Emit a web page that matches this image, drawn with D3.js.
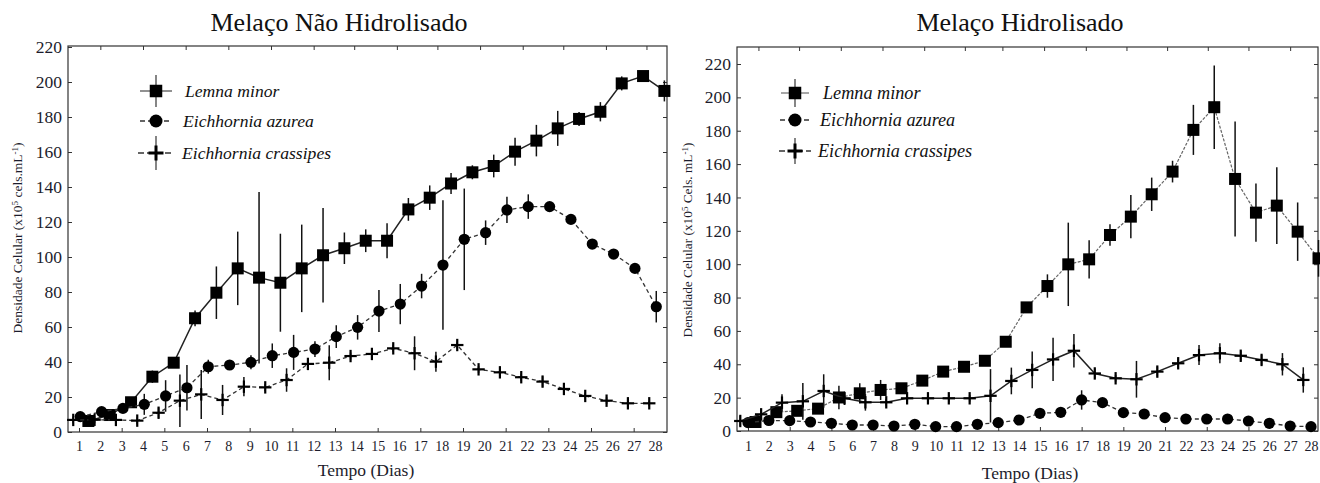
<!DOCTYPE html>
<html><head><meta charset="utf-8">
<script src="https://cdn.jsdelivr.net/npm/d3@7"></script>
<style>
body{margin:0;background:#fff}
svg{display:block}
svg text{font-family:"Liberation Serif","Times New Roman",Times,serif;}
</style>
</head><body>
<svg id="c" width="1320" height="483"></svg>
<script>
// ---------- data ----------
const days = [1,2,3,4,5,6,7,8,9,10,11,12,13,14,15,16,17,18,19,20,21,22,23,24,25,26,27,28];
const yTicks = [0,20,40,60,80,100,120,140,160,180,200,220];
const oddDays = [1,3,5,7,9,11,13,15,17,19,21,23,25,27];
const leftTopTicks = [2,4,6,8,10,12,13.9,15.9,17.8,19.8,21.8,23.7,25.7,27.6];
const rightTopTicks = [1.5,3.45,5.45,7.45,9.45,11.4,13.2,15.2,17.2,19.15,21.1,23.05,25,27];
const seriesNames = ["Lemna minor","Eichhornia azurea","Eichhornia crassipes"];

// Melaço Não Hidrolisado
const leftLemna = [6.3,9.7,17,31.6,39.6,65,79.6,93.5,88.2,85.3,93.5,101,105,109.3,109.3,127.2,133.9,142,148.4,152,160.2,166.5,173.5,178.9,183,199.2,203.4,194.9];
const leftLemnaErr = [1.5,2,2,3.5,2,4.5,15,21,49,28,25,27,9,6.5,10,6.5,7,6,4,6.5,8,9,10,4,5.5,4,2,6];
const leftAzurea = [8.8,11.6,13.5,15.8,20.6,25.3,37.3,38.3,39.8,43.6,45.5,47.4,54.5,59.8,69.1,73.1,83.4,95.4,110.1,113.9,126.9,128.8,128.8,121.5,107.4,101.7,93.5,71.6];
const leftAzureaErr = [1.5,1.5,2,6,9,13,4,2,4,7,10,4.5,6.5,7,12,11.5,7,37,29,7,7.5,7,1.5,2,1.5,2,2,9];
const leftCrassipes = [6.9,7,6.9,6.5,11,17.9,21.5,18.3,25.9,25.5,29.7,38.9,39.6,43.4,44.6,47.8,45,40.2,49.7,35.8,34.1,31.3,28.8,24.6,20.6,17.9,16.4,16.4];
const leftCrassipesErr = [2,2,2,2,3,15,14,8.6,5.5,2,6.7,2,10,2,2,2,9.7,5.7,2,2,2,2,3,2,2,2,1.5,1.5];

// Melaço Hidrolisado
const rightLemna = [5.4,11.3,12.1,13.4,20.1,22.6,24.6,25.6,30.2,35.6,38.5,42.1,53.5,74.1,86.9,99.9,102.9,117.5,128.5,141.9,155.5,180.5,194.1,151.1,130.9,135.1,119.5,103.5];
const rightLemnaErr = [1.5,2,2,3,7,6,6,2,2,2,2,2,2,2,7,25,11.5,6.5,13,10,6.5,15,25,34.5,17.5,23,17.5,11];
const rightAzurea = [5,6.3,6.2,5.4,4.6,3.6,3.6,3.0,4.0,2.6,2.6,4.0,5.0,6.6,10.6,11.2,18.6,17.0,11.0,10.2,8.0,7.2,7.2,7.2,6.0,4.6,3.0,2.6];
const rightAzureaErr = [1.5,1.5,1.5,1.5,1,1,1,1,1,1,1,1,1,1,1.5,1.5,5.8,2,1.5,1.5,1,1,1,3,1,1,1,1];
const rightCrassipes = [6,10,17,17.8,24,19.6,17.2,17.2,19.6,19.6,19.6,19.6,21.1,30,36.6,42.9,48.1,34.5,31.6,31.0,35.6,40.6,45.5,46.6,45.1,42.6,40,30.6];
const rightCrassipesErr = [3,3,5,11,10,4,5,2,2,2,2,2,16,8,11,13,10,3,2,11,3,3,6,6,3,3,6.7,7.6];

// ---------- drawing ----------
const svg = d3.select("#c");
const INK = "#1c1c2c";

function marker(g, shape, cx, cy, big) {
  if (shape === "square") {
    const s = big ? 12.5 : 12;
    g.append("rect").attr("x", cx - s/2).attr("y", cy - s/2).attr("width", s).attr("height", s).attr("fill", "#000");
  } else if (shape === "circle") {
    g.append("circle").attr("cx", cx).attr("cy", cy).attr("r", big ? 6.5 : 5.6).attr("fill", "#000");
  } else {
    const h = big ? 7.5 : 6.2;
    g.append("line").attr("x1", cx - h).attr("x2", cx + h).attr("y1", cy).attr("y2", cy).attr("stroke", "#000").attr("stroke-width", big ? 3 : 2.2);
    g.append("line").attr("x1", cx).attr("x2", cx).attr("y1", cy - h).attr("y2", cy + h).attr("stroke", "#000").attr("stroke-width", big ? 3 : 2.2);
  }
}

function drawPanel(cfg) {
  const g = svg.append("g");
  const x = d3.scaleLinear().domain([1, 28]).range(cfg.xRange);
  const y = d3.scaleLinear().domain([0, 220]).range(cfg.yRange);
  const fx0 = cfg.frame[0], fx1 = cfg.frame[1], fy0 = cfg.frame[2], fy1 = cfg.frame[3];

  g.append("rect").attr("x", fx0).attr("y", fy0).attr("width", fx1 - fx0).attr("height", fy1 - fy0)
    .attr("fill", "none").attr("stroke", "#333").attr("stroke-width", 1.2);

  const ax = g.append("g").attr("transform", `translate(${fx0},0)`)
    .call(d3.axisLeft(y).tickValues(yTicks).tickSizeInner(-4).tickSizeOuter(0).tickPadding(6));
  ax.attr("font-family", null);
  ax.select(".domain").remove();
  ax.selectAll("line").attr("stroke", "#333");
  ax.selectAll("text").attr("font-size", 17.5).attr("fill", INK);

  const ar = g.append("g").attr("transform", `translate(${fx1},0)`)
    .call(d3.axisRight(y).tickValues(yTicks.filter(v => y(v) > fy0 + 2)).tickSizeInner(-4).tickSizeOuter(0).tickFormat(""));
  ar.select(".domain").remove();
  ar.selectAll("line").attr("stroke", "#333");

  const ab = g.append("g").attr("transform", `translate(0,${fy1})`)
    .call(d3.axisBottom(x).tickValues(days).tickSize(0).tickPadding(cfg.xPad).tickFormat(d3.format("d")));
  ab.attr("font-family", null);
  ab.select(".domain").remove();
  ab.selectAll("text").attr("font-size", 14).attr("fill", INK);
  const abt = g.append("g").attr("transform", `translate(0,${fy1})`)
    .call(d3.axisBottom(x).tickValues(oddDays).tickSizeInner(-4).tickSizeOuter(0).tickFormat(""));
  abt.select(".domain").remove();
  abt.selectAll("line").attr("stroke", "#333");

  const at = g.append("g").attr("transform", `translate(0,${fy0})`)
    .call(d3.axisTop(x).tickValues(cfg.topTicks).tickSizeInner(-4).tickSizeOuter(0).tickFormat(""));
  at.select(".domain").remove();
  at.selectAll("line").attr("stroke", "#333");

  g.append("text").attr("x", cfg.titleX).attr("y", cfg.titleY).attr("text-anchor", "middle")
    .attr("font-size", 26).attr("fill", "#111").text(cfg.title);

  g.append("text").attr("x", cfg.xlabX).attr("y", cfg.xlabY).attr("text-anchor", "middle")
    .attr("font-size", 17.5).attr("fill", INK).text("Tempo (Dias)");
  const yl = g.append("text").attr("transform", `translate(${cfg.ylabX},${cfg.ylabY}) rotate(-90)`)
    .attr("text-anchor", "middle").attr("font-size", cfg.ylabSize).attr("fill", INK);
  yl.append("tspan").text("Densidade Celular (x10");
  yl.append("tspan").attr("dy", -4).attr("font-size", 9).text("5");
  yl.append("tspan").attr("dy", 4).text(cfg.unitMid);
  yl.append("tspan").attr("dy", -4).attr("font-size", 9).text("-1");
  yl.append("tspan").attr("dy", 4).text(")");

  cfg.series.forEach(s => {
    const pts = s.values.map((v, i) => ({ d: days[i] + s.dodge, v, e: s.err[i] }));
    g.append("path").datum(pts)
      .attr("d", d3.line().x(p => x(p.d)).y(p => y(p.v)))
      .attr("fill", "none").attr("stroke", s.lineColor).attr("stroke-width", s.lineWidth)
      .attr("stroke-dasharray", s.dash);
    const eg = g.append("g");
    eg.selectAll("line").data(pts).join("line")
      .attr("x1", p => x(p.d)).attr("x2", p => x(p.d))
      .attr("y1", p => y(p.v + p.e)).attr("y2", p => y(Math.max(0, p.v - p.e)))
      .attr("stroke", "#111").attr("stroke-width", 1.5);
    const mg = g.append("g");
    pts.forEach(p => marker(mg, s.shape, x(p.d), y(p.v), false));
  });

  cfg.series.forEach((s, i) => {
    const L = cfg.legend[i];
    const lg = g.append("g");
    lg.append("line").attr("x1", L.cx - L.hw).attr("x2", L.cx + L.hw).attr("y1", L.cy).attr("y2", L.cy)
      .attr("stroke", s.legendLineColor).attr("stroke-width", 1.3).attr("stroke-dasharray", s.legendDash);
    lg.append("line").attr("x1", L.cx).attr("x2", L.cx).attr("y1", L.cy - L.vh).attr("y2", L.cy + L.vh)
      .attr("stroke", "#444").attr("stroke-width", 1.3);
    marker(lg, s.shape, L.cx, L.cy, true);
    lg.append("text").attr("x", L.tx).attr("y", L.cy).attr("dy", "0.35em")
      .attr("font-style", "italic").attr("font-size", cfg.legendSize).attr("fill", "#111")
      .text(seriesNames[i]);
  });
}

drawPanel({
  title: "Melaço Não Hidrolisado", titleX: 339, titleY: 31,
  xRange: [79, 655], yRange: [432, 47], frame: [68, 667, 46, 432], xPad: 9,
  topTicks: leftTopTicks,
  xlabX: 366, xlabY: 476, ylabX: 22, ylabY: 238, ylabSize: 13.5, unitMid: " cels.mL",
  legendSize: 17.6,
  legend: [
    { cx: 156, cy: 91, hw: 16, vh: 16, tx: 185 },
    { cx: 156, cy: 121, hw: 16, vh: 5, tx: 183 },
    { cx: 156, cy: 153, hw: 18, vh: 17, tx: 182 }
  ],
  series: [
    { shape: "square", values: leftLemna, err: leftLemnaErr, dodge: 0.44, dash: null, lineColor: "#222", lineWidth: 1.5, legendDash: null, legendLineColor: "#555" },
    { shape: "circle", values: leftAzurea, err: leftAzureaErr, dodge: 0.06, dash: "4,3", lineColor: "#333", lineWidth: 1.3, legendDash: "5,3", legendLineColor: "#333" },
    { shape: "cross", values: leftCrassipes, err: leftCrassipesErr, dodge: -0.27, dash: "4,3", lineColor: "#333", lineWidth: 1.3, legendDash: "6,3", legendLineColor: "#333" }
  ]
});

drawPanel({
  title: "Melaço Hidrolisado", titleX: 1020, titleY: 31,
  xRange: [748, 1311], yRange: [431, 64], frame: [737, 1318, 47, 431], xPad: 10,
  topTicks: rightTopTicks,
  xlabX: 1030, xlabY: 479, ylabX: 692, ylabY: 240, ylabSize: 13.3, unitMid: " Cels. mL",
  legendSize: 18.2,
  legend: [
    { cx: 795, cy: 93, hw: 14, vh: 14, tx: 823 },
    { cx: 795, cy: 120, hw: 15, vh: 5, tx: 820 },
    { cx: 795, cy: 151, hw: 16, vh: 13, tx: 818 }
  ],
  series: [
    { shape: "square", values: rightLemna, err: rightLemnaErr, dodge: 0.36, dash: "3,1.5", lineColor: "#666", lineWidth: 1.2, legendDash: null, legendLineColor: "#777" },
    { shape: "circle", values: rightAzurea, err: rightAzureaErr, dodge: 0, dash: "4,3", lineColor: "#333", lineWidth: 1.3, legendDash: "5,3", legendLineColor: "#333" },
    { shape: "cross", values: rightCrassipes, err: rightCrassipesErr, dodge: -0.37, dash: null, lineColor: "#222", lineWidth: 1.5, legendDash: "6,3", legendLineColor: "#333" }
  ]
});
</script>
</body></html>
